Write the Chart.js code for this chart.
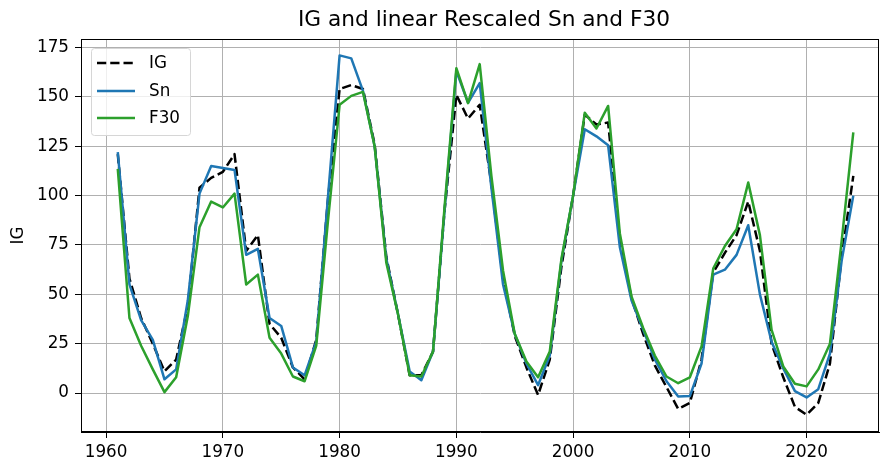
<!DOCTYPE html>
<html><head><meta charset="utf-8">
<script src="https://cdn.jsdelivr.net/npm/chart.js@4.4.0/dist/chart.umd.min.js"></script>
<style>html,body{margin:0;padding:0;background:#fff;}</style>
</head><body>
<canvas id="c" width="880" height="464"></canvas>
<script>
const titleText = 'IG and linear Rescaled Sn and F30';
const yLabel = 'IG';
const seriesNames = ['IG', 'Sn', 'F30'];
const years = [1961,1962,1963,1964,1965,1966,1967,1968,1969,1970,
  1971,1972,1973,1974,1975,1976,1977,1978,1979,1980,
  1981,1982,1983,1984,1985,1986,1987,1988,1989,1990,
  1991,1992,1993,1994,1995,1996,1997,1998,1999,2000,
  2001,2002,2003,2004,2005,2006,2007,2008,2009,2010,
  2011,2012,2013,2014,2015,2016,2017,2018,2019,2020,
  2021,2022,2023,2024];
const igValues = [121,58,38,25,11,17,44,104,109,112,
  121,72,80,35,28,13,7,27,98,154,
  156,154,126,69,40,9,9,21,93,151,
  139,146,106,58,29,13,-1,17,64,100,
  141,136,137,78,48,30,14,3,-8,-5,
  17,61,71,80,97,72,25,8,-7,-11,
  -5,15,69,110];
const snValues = [122,55,37,27,7,12,47,101,115,114,
  113,70,73,38,34,13,9,26,99,171,
  169.5,153,125,68,40,11,6.5,21,93,163,
  147,157,104,55,30,15,4,19,67,100,
  133.6,130,125.5,74,47,32,17,6,-1.7,-1.5,
  15,60,62.5,70,85,50,26,12.5,1,-2.2,
  2,20,67,100];
const f30Values = [113.5,38,24,12,0.5,8,39,84,97,94,
  101,55,60,28,20,8.4,6,24,87,146,
  150.5,152.5,125,66,40,9,8.4,21,95,164.5,
  146.8,166.6,110,62,30,16,8,21,68,100,
  142,134,145.4,81,49,33,19,8.4,5,8,
  23.6,63,74.5,83,106.6,80,32,13.5,4.7,3.4,
  12,25,77,132];
const xTicks = [1960,1970,1980,1990,2000,2010,2020];
const yTicks = [0,25,50,75,100,125,150,175];

const colors = ['#000000', '#1f77b4', '#2ca02c'];
const dashes = [[9.25,4], [], []];
const allValues = [igValues, snValues, f30Values];
const FONT = 'DejaVu Sans';

const datasets = allValues.map((vals, i) => ({
  label: seriesNames[i],
  data: years.map((yr, k) => ({x: yr, y: vals[k]})),
  borderColor: colors[i],
  backgroundColor: colors[i],
  borderDash: dashes[i],
  borderWidth: 2.5,
  pointRadius: 0,
  tension: 0,
  fill: false,
  order: 3 - i,
  borderCapStyle: 'butt',
  borderJoinStyle: 'round'
}));

const decor = {
  id: 'decor',
  afterDraw(chart) {
    const ctx = chart.ctx, ca = chart.chartArea;
    ctx.save();
    // spines
    ctx.strokeStyle = '#000'; ctx.lineWidth = 1;
    ctx.strokeRect(Math.round(ca.left) + 0.5, Math.round(ca.top) + 0.5,
      Math.round(ca.right - ca.left) - 1, Math.round(ca.bottom - ca.top) - 1);
    // title
    ctx.fillStyle = '#000';
    ctx.font = '21.7px "' + FONT + '"';
    ctx.textAlign = 'center'; ctx.textBaseline = 'middle';
    ctx.fillText(titleText, (ca.left + ca.right) / 2 + 4, 20);
    // legend
    const bx = 91, by = 48, bw = 99, bh = 87;
    ctx.beginPath();
    ctx.roundRect(bx + 0.5, by + 0.5, bw, bh, 3);
    ctx.fillStyle = 'rgba(255,255,255,0.8)';
    ctx.fill();
    ctx.strokeStyle = '#d6d6d6'; ctx.lineWidth = 1;
    ctx.stroke();
    const rows = [63, 91, 118];
    seriesNames.forEach((nm, i) => {
      ctx.beginPath();
      ctx.setLineDash(dashes[i]);
      ctx.strokeStyle = colors[i]; ctx.lineWidth = 2.5;
      ctx.moveTo(97, rows[i]); ctx.lineTo(135, rows[i]);
      ctx.stroke();
      ctx.setLineDash([]);
      ctx.fillStyle = '#000';
      ctx.font = '16.8px "' + FONT + '"';
      ctx.textAlign = 'left'; ctx.textBaseline = 'middle';
      ctx.fillText(nm, 149, rows[i] + 1);
    });
    ctx.restore();
  }
};

new Chart(document.getElementById('c'), {
  type: 'line',
  data: { datasets },
  options: {
    responsive: false,
    animation: false,
    devicePixelRatio: 1,
    layout: { padding: { top: 39, right: 1, left: 0, bottom: 0 } },
    plugins: { legend: { display: false }, title: { display: false }, tooltip: { enabled: false } },
    scales: {
      x: {
        type: 'linear', min: 1957.85, max: 2026.2,
        afterBuildTicks: s => { s.ticks = xTicks.map(v => ({ value: v })); },
        afterFit: s => { s.height = 32; },
        grid: { color: '#b0b0b0', lineWidth: 1, tickColor: '#000', tickLength: 6, drawTicks: true },
        border: { color: '#000', width: 1 },
        ticks: { color: '#000', font: { family: FONT, size: 16.8 }, padding: 5, maxRotation: 0, autoSkip: false, callback: v => String(v) }
      },
      y: {
        type: 'linear', min: -19.7, max: 179.3,
        afterBuildTicks: s => { s.ticks = yTicks.map(v => ({ value: v })); },
        afterFit: s => { s.width = 81; },
        grid: { color: '#b0b0b0', lineWidth: 1, tickColor: '#000', tickLength: 6, drawTicks: true },
        border: { color: '#000', width: 1 },
        ticks: { color: '#000', font: { family: FONT, size: 16.8 }, padding: 6, callback: v => String(v) },
        title: { display: true, text: yLabel, color: '#000', font: { family: FONT, size: 16.8 }, padding: { top: 9, bottom: 0 } }
      }
    }
  },
  plugins: [decor]
});
</script>
</body></html>
